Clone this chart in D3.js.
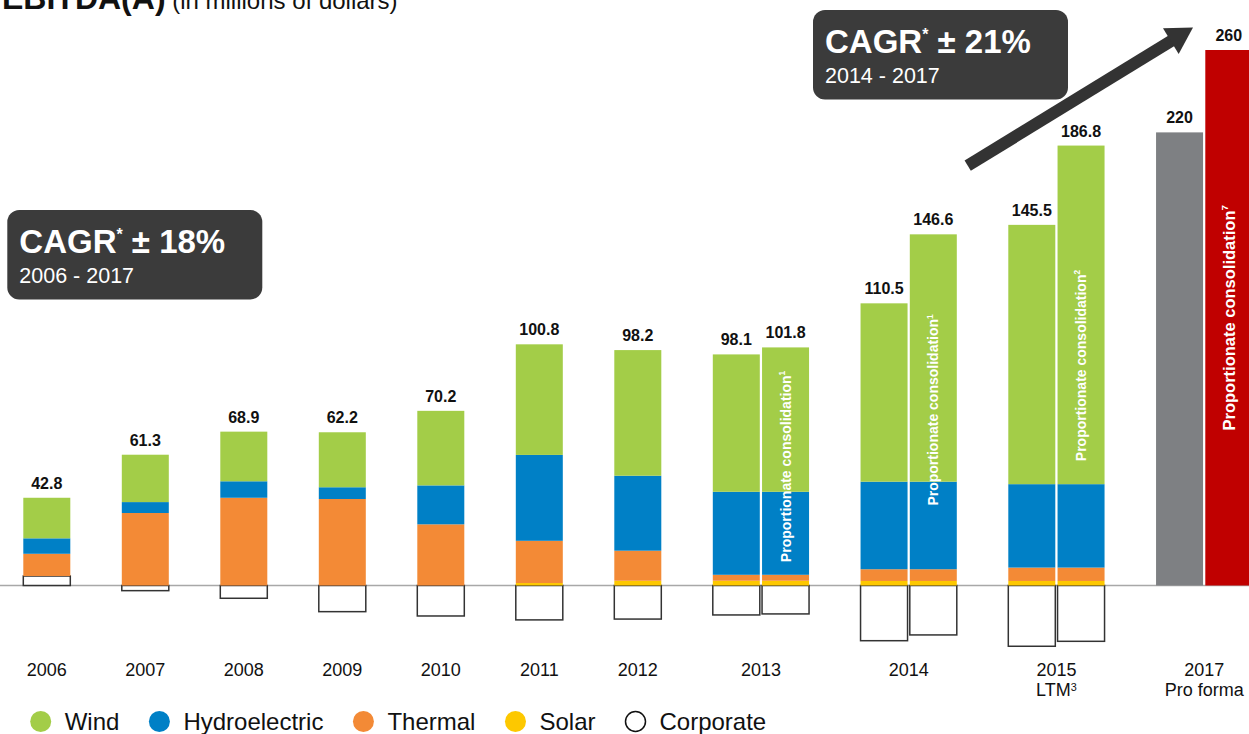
<!DOCTYPE html>
<html>
<head>
<meta charset="utf-8">
<script src="https://cdn.jsdelivr.net/npm/d3@7"></script>
<style>
  body { margin: 0; background: #fff; }
  svg  { display: block; font-family: "Helvetica Neue", Helvetica, "Liberation Sans", Arial, sans-serif; }
</style>
</head>
<body>
<svg width="1249" height="734"></svg>
<script>
// one entry per bar (2013-2015 have a second, proportionate consolidation bar)
const barYear   = ["2006","2007","2008","2009","2010","2011","2012","2013","2013","2014","2014","2015","2015","2017","2017"];
const totals    = [42.8, 61.3, 68.9, 62.2, 70.2, 100.8, 98.2, 98.1, 101.8, 110.5, 146.6, 145.5, 186.8, 220, 260];
const wind      = [19.7, 23.0, 24.1, 26.7, 36.2, 53.7, 61.0, 66.7, 70.1, 86.6, 120.1, 125.9, 164.4, 0, 0];
const hydro     = [7.5, 5.3, 8.0, 5.7, 18.9, 41.7, 36.4, 40.3, 40.3, 42.5, 42.5, 40.5, 40.5, 0, 0];
const thermal   = [10.8, 35.2, 42.6, 42.0, 29.7, 20.5, 14.6, 2.9, 2.9, 5.7, 5.7, 6.5, 6.5, 0, 0];
const solar     = [0, 0, 0, 0, 0, 1.2, 2.3, 2.3, 2.3, 2.2, 2.2, 2.2, 2.2, 0, 0];
const corporate = [4.6, -2.5, -6.2, -12.7, -14.8, -16.7, -16.3, -14.3, -13.8, -26.8, -24.0, -29.5, -27.1, 0, 0];
const pfBase    = [0, 0, 0, 0, 0, 0, 0, 0, 0, 0, 0, 0, 0, 220, 0];
const pfProp    = [0, 0, 0, 0, 0, 0, 0, 0, 0, 0, 0, 0, 0, 0, 260];
const consNote  = [null, null, null, null, null, null, null, null, "1", null, "1", null, "2", null, "7"];

// x-axis groups
const groupNames = ["2006","2007","2008","2009","2010","2011","2012","2013","2014","2015","2017"];
const groupLine2 = ["", "", "", "", "", "", "", "", "", "LTM", "Pro forma"];
const groupNote2 = ["", "", "", "", "", "", "", "", "", "3", ""];

const legendKeys   = ["wind","hydro","thermal","solar","corporate"];
const legendLabels = ["Wind","Hydroelectric","Thermal","Solar","Corporate"];

const colors = {
  corporate: "#ffffff", solar: "#fdc800", thermal: "#f38a36", hydro: "#0080c6",
  wind: "#a3cd48", pfBase: "#7e8083", pfProp: "#c00000"
};

let svg  = d3.select("svg"),
    keys = ["corporate","solar","thermal","hydro","wind","pfBase","pfProp"],
    rows = barYear.map((yr, i) => ({
      idx: i, year: yr, total: totals[i], note: consNote[i],
      corporate: corporate[i], solar: solar[i], thermal: thermal[i],
      hydro: hydro[i], wind: wind[i], pfBase: pfBase[i], pfProp: pfProp[i]
    })),
    series = d3.stack().keys(keys).offset(d3.stackOffsetDiverging)(rows);

// slot of each bar: bars of the same year sit side by side, a new year skips a slot
let pos = [];
barYear.forEach((yr, i) => pos.push(i === 0 ? 0 : pos[i-1] + (yr === barYear[i-1] ? 1 : 2)));

let x    = d3.scaleLinear().domain([0, d3.max(pos)]).range([23.3, 1205.3]),
    barW = 47,
    y    = d3.scaleLinear().domain([0, 260]).range([585.5, 50]);

let posTop = rows.map((r, i) => d3.max(series, s => s[i][1]));

// zero line
svg.append("line")
  .attr("x1", 0).attr("x2", 1249)
  .attr("y1", y(0)).attr("y2", y(0))
  .attr("stroke", "#a8a8a8")
  .attr("stroke-width", 1.5);

// stacked segments
let gBars = svg.append("g");
series.forEach(s => {
  gBars.selectAll(null)
    .data(s.filter(d => d[1] !== d[0]))
    .enter().append("rect")
      .attr("x", d => x(pos[d.data.idx]))
      .attr("y", d => y(d[1]))
      .attr("width", barW)
      .attr("height", d => y(d[0]) - y(d[1]))
      .attr("fill", colors[s.key])
      .attr("stroke", s.key === "corporate" ? "#333" : "none")
      .attr("stroke-width", 1.5);
});

// value labels
svg.append("g").selectAll("text")
  .data(rows)
  .enter().append("text")
    .attr("x", d => x(pos[d.idx]) + barW / 2)
    .attr("y", d => y(posTop[d.idx]) - 9)
    .attr("text-anchor", "middle")
    .attr("font-size", 16)
    .attr("font-weight", "bold")
    .attr("fill", "#111")
    .text(d => d.total);

// "Proportionate consolidation" vertical notes
let notes = svg.append("g").selectAll("text")
  .data(rows.filter(d => d.note))
  .enter().append("text")
    .attr("transform", d => `translate(${x(pos[d.idx]) + barW / 2},${y(posTop[d.idx] / 2)}) rotate(-90)`)
    .attr("text-anchor", "middle")
    .attr("dominant-baseline", "central")
    .attr("fill", "#fff")
    .attr("font-weight", "bold")
    .attr("font-size", d => d.pfProp > 0 ? 16.5 : 14);
notes.append("tspan").text("Proportionate consolidation");
notes.append("tspan")
  .attr("dy", "-0.45em")
  .attr("font-size", "0.6em")
  .text(d => d.note);

// x-axis labels
let gLabels = svg.append("g")
  .attr("font-size", 18)
  .attr("fill", "#111")
  .attr("text-anchor", "middle");
groupNames.forEach((g, gi) => {
  let p  = pos.filter((q, i) => barYear[i] === g),
      cx = (x(d3.min(p)) + x(d3.max(p)) + barW) / 2;
  gLabels.append("text").attr("x", cx).attr("y", 676).text(g);
  if (groupLine2[gi]) {
    let t = gLabels.append("text").attr("x", cx).attr("y", 696);
    t.append("tspan").text(groupLine2[gi]);
    if (groupNote2[gi]) t.append("tspan").attr("dy", "-0.5em").attr("font-size", "0.6em").text(groupNote2[gi]);
  }
});

// title (cropped at the top of the picture)
let title = svg.append("text").attr("x", 2).attr("y", 9).attr("fill", "#111");
title.append("tspan").attr("font-size", 32).attr("font-weight", "bold").text("EBITDA(A)");
title.append("tspan").attr("font-size", 24).text(" (in millions of dollars)");

// CAGR boxes
function cagrBox(bx, by, rate, period) {
  let g = svg.append("g").attr("transform", `translate(${bx},${by})`);
  g.append("rect")
    .attr("width", 255).attr("height", 89.5)
    .attr("rx", 12)
    .attr("fill", "#3b3b3b");
  let t = g.append("text")
    .attr("x", 12).attr("y", 43.3)
    .attr("fill", "#fff")
    .attr("font-weight", "bold")
    .attr("font-size", 33);
  t.append("tspan").text("CAGR");
  t.append("tspan").attr("dy", -13).attr("font-size", 16).text("*");
  t.append("tspan").attr("dy", 13).text(" \u00b1 " + rate);
  g.append("text")
    .attr("x", 12).attr("y", 73.3)
    .attr("fill", "#fff")
    .attr("font-size", 21.5)
    .text(period);
}
cagrBox(7.3, 210, "18%", "2006 - 2017");
cagrBox(813, 10, "21%", "2014 - 2017");

// growth arrow
let tail = [967.7, 165.7],
    tip  = [1193, 27.5],
    len  = Math.hypot(tip[0] - tail[0], tip[1] - tail[1]),
    ux   = (tip[0] - tail[0]) / len,
    uy   = (tip[1] - tail[1]) / len,
    hl   = 26, hw = 15,
    base = [tip[0] - ux * hl, tip[1] - uy * hl];
svg.append("line")
  .attr("x1", tail[0]).attr("y1", tail[1])
  .attr("x2", base[0] + ux * 2).attr("y2", base[1] + uy * 2)
  .attr("stroke", "#333")
  .attr("stroke-width", 12);
svg.append("path")
  .attr("d", `M${tip[0]},${tip[1]}L${base[0] - uy * hw},${base[1] + ux * hw}L${base[0] + uy * hw},${base[1] - ux * hw}Z`)
  .attr("fill", "#333");

// legend
let lx = 40.7,
    legend = svg.append("g");
legendKeys.forEach((k, i) => {
  legend.append("circle")
    .attr("cx", lx).attr("cy", 721.5).attr("r", k === "corporate" ? 10 : 10.5)
    .attr("fill", colors[k])
    .attr("stroke", k === "corporate" ? "#111" : "none")
    .attr("stroke-width", 1.5);
  let t = legend.append("text")
    .attr("x", lx + 24).attr("y", 729.5)
    .attr("font-size", 24)
    .attr("fill", "#111")
    .text(legendLabels[i]);
  lx += 24 + t.node().getComputedTextLength() + 40;
});
</script>
</body>
</html>
